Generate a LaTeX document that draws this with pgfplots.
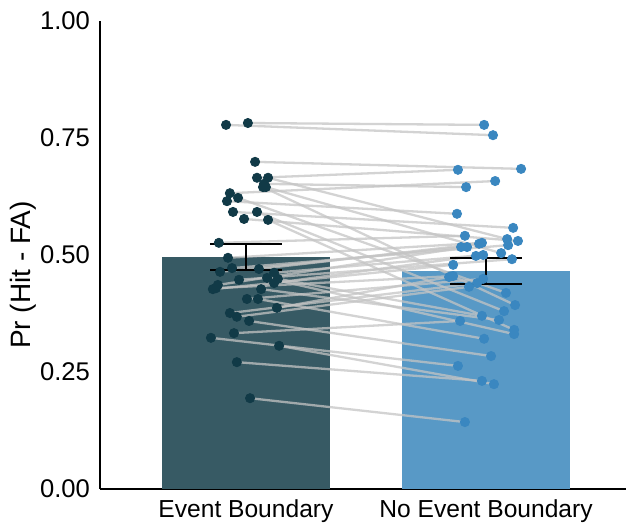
\documentclass[border=0pt]{standalone}
\usepackage{pgfplots}
\pgfplotsset{compat=1.18}
\usepackage{pgfplotstable}
\usepackage{fontspec}
\setmainfont{Liberation Sans}
\definecolor{barL}{HTML}{375A64}
\definecolor{barR}{HTML}{5899C6}
\definecolor{ptL}{HTML}{113A47}
\definecolor{ptR}{HTML}{3A87C0}
\definecolor{ln}{HTML}{C4C4C4}
\pgfplotstableread{
xl vl xr vr
-0.083 0.778 1.029 0.756
0.008 0.782 0.992 0.778
0.038 0.699 1.146 0.684
0.046 0.665 0.883 0.682
0.092 0.665 1.088 0.534
0.075 0.652 0.917 0.645
0.083 0.645 1.063 0.504
0.071 0.645 1.121 0.393
-0.067 0.632 1.038 0.658
-0.079 0.615 0.879 0.588
-0.033 0.622 1.083 0.419
-0.054 0.592 1.113 0.558
0.046 0.592 1.075 0.380
-0.008 0.577 1.133 0.530
0.092 0.575 1.117 0.340
-0.113 0.526 0.912 0.541
-0.075 0.494 0.983 0.526
-0.108 0.464 0.896 0.517
-0.058 0.472 1.092 0.521
0.054 0.470 0.971 0.524
-0.029 0.447 1.108 0.491
0.088 0.451 1.117 0.331
0.117 0.462 0.988 0.500
0.133 0.449 0.983 0.370
0.117 0.440 0.958 0.498
-0.117 0.436 0.921 0.517
-0.138 0.427 0.863 0.479
-0.125 0.429 0.863 0.455
0.063 0.427 1.054 0.361
0.004 0.406 0.988 0.449
0.050 0.406 0.992 0.321
0.129 0.387 0.846 0.453
-0.067 0.376 0.963 0.440
-0.038 0.368 0.929 0.432
0.013 0.359 1.021 0.284
-0.050 0.333 0.892 0.359
-0.146 0.323 0.883 0.263
0.138 0.306 1.033 0.224
-0.038 0.271 0.983 0.231
0.017 0.194 0.912 0.143
}\pairs
\begin{document}
\begin{tikzpicture}
\path[use as bounding box] (-50pt,-19.5pt) rectangle (263pt,244.5pt);
\begin{axis}[
  at={(0,0)}, anchor=south west,
  scale only axis, width=263pt, height=234pt,
  xmin=-0.608, xmax=1.583, ymin=0, ymax=1,
  axis x line*=bottom, axis y line*=left,
  axis line style={line width=1pt, black},
  major tick length=0pt,
  xtick={0,1}, xticklabels={Event Boundary, No Event Boundary},
  ytick={0,0.25,0.5,0.75,1},
  yticklabel style={/pgf/number format/fixed, /pgf/number format/fixed zerofill, /pgf/number format/precision=2, font=\fontsize{12.8}{14}\selectfont, xshift=-1.5pt},
  xticklabel style={font=\fontsize{12.3}{14}\selectfont, yshift=-2pt},
  /pgf/number format/assume math mode=true,
  ylabel={Pr (Hit - FA)},
  ylabel style={at={(axis description cs:-0.146,0.457)}, anchor=center, rotate=0, font=\fontsize{14}{16}\selectfont},
  clip=false,
]
\addplot[ybar, bar width=0.7, bar shift=0pt, fill=barL, draw=none] coordinates {(0,0.496)};
\addplot[ybar, bar width=0.7, bar shift=0pt, fill=barR, draw=none] coordinates {(1,0.466)};
\addplot[ln, line width=1.15pt, opacity=0.75, -, quiver={u=\thisrow{xr}-\thisrow{xl}, v=\thisrow{vr}-\thisrow{vl}}] table[x=xl, y=vl] {\pairs};
\addplot[draw=none, mark=none, error bars/.cd, y dir=both, y explicit,
  error bar style={line width=1pt, black},
  error mark options={rotate=90, mark size=18pt, line width=1pt, black}]
  coordinates {(0,0.496) +- (0,0.028) (1,0.466) +- (0,0.028)};
\addplot[only marks, mark=*, mark size=2.3pt, mark options={fill=ptL, draw=ptL}] table[x=xl, y=vl] {\pairs};
\addplot[only marks, mark=*, mark size=2.3pt, mark options={fill=ptR, draw=ptR}] table[x=xr, y=vr] {\pairs};
\end{axis}
\end{tikzpicture}
\end{document}
